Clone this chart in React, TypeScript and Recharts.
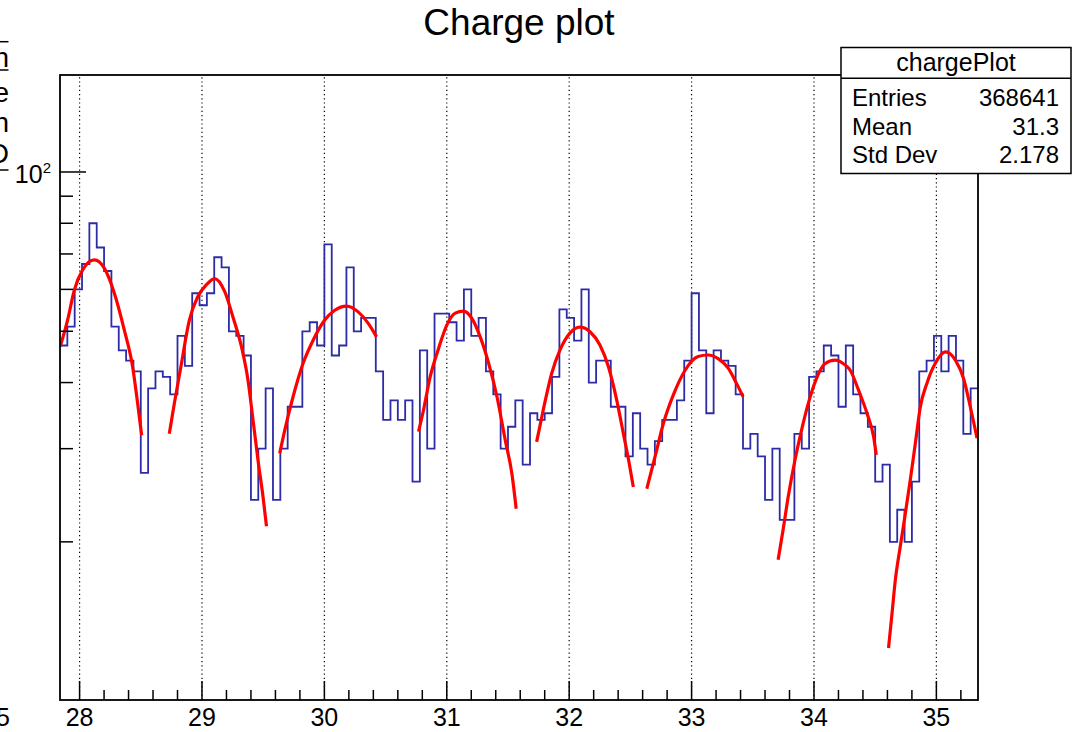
import { ComposedChart, Line, XAxis, YAxis, ReferenceLine } from 'recharts';

const FONT = '"Liberation Sans", Arial, Helvetica, sans-serif';
const PLOT_LEFT = 60;
const PLOT_BOTTOM = 700;

// histogram binning (axis range snaps to bin edges)
const BIN_LOW = 27.84;
const BIN_WIDTH = 0.06;
const X_MIN = 27.84;
const X_MAX = 35.34;
const Y_MIN = 10.05;
const Y_MAX = 152.5;

// counts per bin
const binCounts = [
  47, 51, 60, 67, 80, 72, 65, 51, 46, 44, 42, 27, 39, 42, 41, 38, 49, 43, 59, 56,
  59, 69, 66, 50, 49, 45, 24, 30, 39, 24, 30, 36, 36, 50, 52, 47, 73, 45, 47, 66,
  50, 53, 53, 42, 34, 37, 34, 37, 26, 46, 30, 54, 54, 52, 48, 60, 49, 53, 42, 38,
  30, 33, 37, 28, 35, 34, 35, 41, 55, 53, 48, 60, 40, 44, 44, 36, 36, 29, 35, 30,
  28, 31, 34, 34, 37, 44, 59, 46, 35, 46, 44, 43, 38, 30, 32, 29, 24, 30, 22, 22,
  32, 30, 41, 42, 47, 45, 36, 47, 38, 35, 33, 26, 28, 20, 23, 20, 26, 42, 44, 49,
  42, 49, 44, 32, 39,
];

// gaussian fit segments
const fit1 = [
  [27.842, 46.8], [27.902, 52.5], [27.957, 59.8], [28.025, 65.3], [28.12, 68.2],
  [28.202, 65.8], [28.284, 59.0], [28.365, 50.3], [28.433, 42.9], [28.474, 36.6],
  [28.507, 31.8],
];
const fit2 = [
  [28.733, 32.0], [28.774, 36.5], [28.828, 42.9], [28.897, 52.5], [28.965, 58.1],
  [29.033, 61.1], [29.104, 62.9], [29.186, 59.4], [29.253, 53.2], [29.322, 46.8],
  [29.376, 40.4], [29.417, 34.0], [29.458, 28.5], [29.499, 24.3], [29.527, 21.4],
];
const fit3 = [
  [29.635, 29.4], [29.676, 32.5], [29.744, 37.6], [29.826, 43.5], [29.908, 48.1],
  [30.003, 52.5], [30.085, 54.8], [30.181, 55.8], [30.276, 54.4], [30.357, 51.8],
  [30.426, 48.8],
];
const fit4 = [
  [30.769, 32.3], [30.81, 35.5], [30.864, 41.0], [30.933, 46.4], [31.001, 51.4],
  [31.069, 54.1], [31.137, 54.6], [31.205, 52.9], [31.273, 48.8], [31.342, 43.5],
  [31.41, 37.6], [31.478, 31.1], [31.532, 26.9], [31.567, 23.1],
];
const fit5 = [
  [31.734, 30.9], [31.788, 35.5], [31.857, 41.6], [31.925, 46.1], [32.006, 49.6],
  [32.088, 50.9], [32.17, 49.9], [32.251, 47.1], [32.32, 42.9], [32.388, 37.1],
  [32.442, 32.1], [32.491, 28.1], [32.524, 25.4],
];
const fit6 = [
  [32.634, 25.2], [32.702, 29.0], [32.77, 33.5], [32.851, 37.9], [32.947, 42.2],
  [33.053, 44.8], [33.135, 45.1], [33.217, 44.4], [33.299, 42.6], [33.366, 39.9],
  [33.421, 37.6],
];
const fit7 = [
  [33.707, 18.5], [33.748, 21.1], [33.789, 24.3], [33.844, 28.5], [33.898, 32.5],
  [33.953, 36.5], [34.02, 40.7], [34.089, 43.4], [34.171, 44.1], [34.253, 43.2],
  [34.296, 42.2], [34.364, 38.7], [34.433, 35.0], [34.487, 31.6], [34.509, 29.2],
];
const fit8 = [
  [34.609, 12.6], [34.637, 14.6], [34.664, 16.9], [34.705, 19.6], [34.746, 22.6],
  [34.787, 26.2], [34.828, 30.7], [34.869, 36.0], [34.923, 39.9], [34.991, 43.5],
  [35.073, 45.7], [35.155, 44.1], [35.222, 40.7], [35.277, 36.0], [35.332, 31.4],
];
const fits = [fit1, fit2, fit3, fit4, fit5, fit6, fit7, fit8];

const xMajorTicks = [28, 29, 30, 31, 32, 33, 34, 35];
const yTicks = [20, 30, 40, 50, 60, 70, 80, 90, 100];

const statsTitle = 'chargePlot';
const statsLabels = ['Entries', 'Mean', 'Std Dev'];
const statsValues = ['368641', '31.3', '2.178'];

const histData = binCounts.map((c, i) => ({ x: BIN_LOW + i * BIN_WIDTH, y: c }));
histData.push({ x: BIN_LOW + binCounts.length * BIN_WIDTH, y: binCounts[binCounts.length - 1] });

const xTicks = xMajorTicks
  .flatMap((m) => [0, 0.2, 0.4, 0.6, 0.8].map((d) => +(m + d).toFixed(1)))
  .filter((v) => v >= X_MIN && v <= X_MAX);

function XTick(props: any) {
  const { x, payload } = props;
  const v = payload.value;
  const major = Math.abs(v - Math.round(v)) < 1e-6;
  return (
    <g>
      <line x1={x} x2={x} y1={PLOT_BOTTOM} y2={PLOT_BOTTOM - (major ? 19 : 10)} stroke="#000" strokeWidth={1.5} />
      {major && (
        <text x={x} y={726} textAnchor="middle" fontSize={25} fontFamily={FONT} fill="#000">
          {v}
        </text>
      )}
    </g>
  );
}

function YTick(props: any) {
  const { y, payload } = props;
  const major = payload.value === 100;
  return (
    <g>
      <line x1={PLOT_LEFT} x2={PLOT_LEFT + (major ? 26 : 13)} y1={y} y2={y} stroke="#000" strokeWidth={1.5} />
      {major && (
        <text x={51} y={y + 11.5} textAnchor="end" fontSize={25} fontFamily={FONT} fill="#000">
          10
          <tspan fontSize={15} dy={-10}>2</tspan>
        </text>
      )}
    </g>
  );
}

export default function App() {
  return (
    <div style={{ position: 'absolute', left: 0, top: 0, width: 1077, height: 732, background: '#fff', overflow: 'hidden' }}>
      <ComposedChart width={1077} height={732} margin={{ top: 75, right: 99, bottom: 0, left: 0 }}>
        <XAxis
          dataKey="x"
          type="number"
          domain={[X_MIN, X_MAX]}
          allowDataOverflow
          ticks={xTicks}
          interval={0}
          tick={<XTick />}
          tickLine={false}
          axisLine={false}
          height={32}
        />
        <YAxis
          type="number"
          scale="log"
          domain={[Y_MIN, Y_MAX]}
          allowDataOverflow
          ticks={yTicks}
          interval={0}
          tick={<YTick />}
          tickLine={false}
          axisLine={false}
          width={60}
        />
        {xMajorTicks.map((t) => (
          <ReferenceLine key={t} x={t} stroke="#000" strokeWidth={1.2} strokeDasharray="1.2 3" />
        ))}
        <Line
          data={histData}
          dataKey="y"
          type="stepAfter"
          stroke="#2c2ca6"
          strokeWidth={1.8}
          dot={false}
          activeDot={false}
          isAnimationActive={false}
        />
        {fits.map((f, i) => (
          <Line
            key={i}
            data={f.map(([x, y]) => ({ x, y }))}
            dataKey="y"
            type="monotone"
            stroke="#ff0000"
            strokeWidth={3.2}
            dot={false}
            activeDot={false}
            isAnimationActive={false}
          />
        ))}
      </ComposedChart>
      <svg width={1077} height={732} style={{ position: 'absolute', left: 0, top: 0, pointerEvents: 'none' }}>
        <text x={519} y={35} textAnchor="middle" fontSize={37} fontFamily={FONT} fill="#000">
          Charge plot
        </text>
        <rect x={60} y={75} width={918} height={625} fill="none" stroke="#000" strokeWidth={1.8} />
        <rect x={841} y={47.5} width={230} height={126} fill="#fff" stroke="#000" strokeWidth={1.5} />
        <line x1={841} x2={1071} y1={78.3} y2={78.3} stroke="#000" strokeWidth={1.5} />
        <text x={956} y={71} textAnchor="middle" fontSize={25} fontFamily={FONT} fill="#000">
          {statsTitle}
        </text>
        {statsLabels.map((l, i) => (
          <g key={l}>
            <text x={852} y={106 + i * 28.7} fontSize={24} fontFamily={FONT} fill="#000">
              {l}
            </text>
            <text x={1059} y={106 + i * 28.7} textAnchor="end" fontSize={24} fontFamily={FONT} fill="#000">
              {statsValues[i]}
            </text>
          </g>
        ))}
        {/* edge of the neighbouring pad */}
        <line x1={0} x2={8.5} y1={41.7} y2={41.7} stroke="#000" strokeWidth={1.5} />
        <line x1={0} x2={8.5} y1={70} y2={70} stroke="#000" strokeWidth={1.5} />
        <line x1={0} x2={8.5} y1={170} y2={170} stroke="#000" strokeWidth={1.5} />
        <text x={9} y={67} textAnchor="end" fontSize={28} fontFamily={FONT} fill="#000">h</text>
        <text x={9} y={102} textAnchor="end" fontSize={28} fontFamily={FONT} fill="#000">e</text>
        <text x={9} y={132} textAnchor="end" fontSize={28} fontFamily={FONT} fill="#000">n</text>
        <text x={9} y={163} textAnchor="end" fontSize={28} fontFamily={FONT} fill="#000">D</text>
        <text x={10} y={726} textAnchor="end" fontSize={25} fontFamily={FONT} fill="#000">5</text>
      </svg>
    </div>
  );
}
